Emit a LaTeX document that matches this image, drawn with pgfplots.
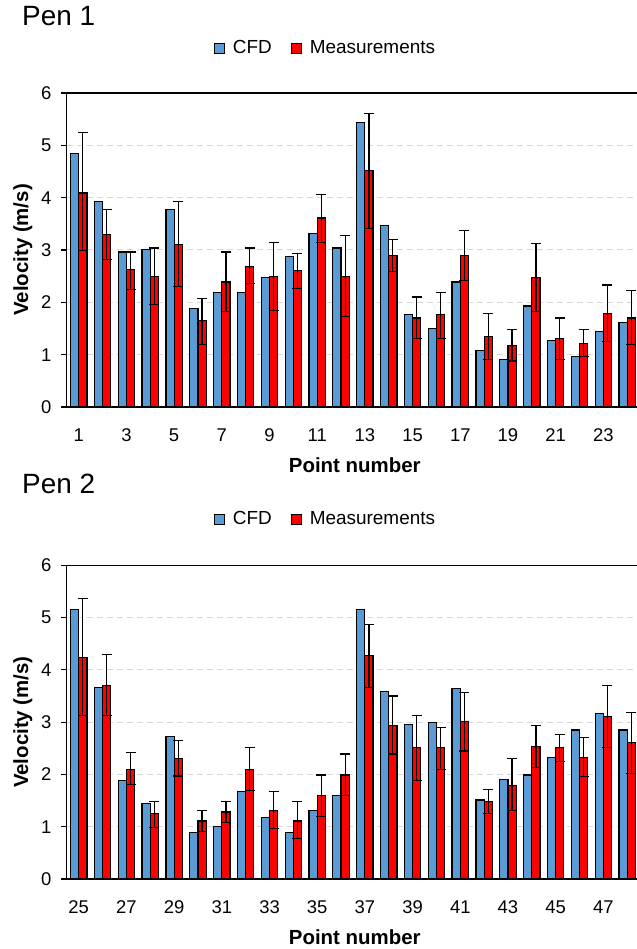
\documentclass[border=0pt]{standalone}
\usepackage{fontspec}
\setmainfont{Liberation Sans}
\usepackage{pgfplots}
\pgfplotsset{compat=1.18}
\usepackage{pgfplotstable}
\definecolor{cfdblue}{HTML}{5B9BD5}
\definecolor{measred}{HTML}{FF0000}
\definecolor{gridgray}{HTML}{D9D9D9}

\pgfplotstableread{
x c m ep em
1 4.85 4.09 1.15 1.10
2 3.92 3.30 0.48 0.48
3 2.96 2.62 0.34 0.37
4 3.01 2.50 0.54 0.54
5 3.78 3.10 0.82 0.80
6 1.88 1.65 0.42 0.46
7 2.19 2.39 0.57 0.57
8 2.19 2.69 0.35 0.33
9 2.47 2.50 0.65 0.65
10 2.87 2.61 0.32 0.34
11 3.32 3.61 0.45 0.46
12 3.04 2.50 0.77 0.77
13 5.43 4.52 1.09 1.11
14 3.47 2.90 0.30 0.31
15 1.76 1.70 0.40 0.39
16 1.50 1.76 0.43 0.45
17 2.39 2.90 0.48 0.48
18 1.08 1.34 0.44 0.43
19 0.91 1.17 0.31 0.29
20 1.93 2.47 0.66 0.65
21 1.27 1.31 0.39 0.40
22 0.97 1.22 0.26 0.25
23 1.45 1.79 0.54 0.54
24 1.62 1.70 0.52 0.51
}\penA

\pgfplotstableread{
x c m ep em
25 5.16 4.24 1.12 1.11
26 3.67 3.70 0.60 0.57
27 1.88 2.10 0.32 0.30
28 1.45 1.26 0.22 0.27
29 2.73 2.31 0.34 0.34
30 0.89 1.11 0.20 0.20
31 1.00 1.28 0.20 0.20
32 1.68 2.10 0.41 0.40
33 1.17 1.31 0.37 0.34
34 0.89 1.11 0.37 0.34
35 1.31 1.59 0.40 0.39
36 1.59 1.99 0.40 0.40
37 5.16 4.27 0.60 0.60
38 3.58 2.93 0.57 0.54
39 2.96 2.51 0.62 0.63
40 2.99 2.51 0.39 0.41
41 3.64 3.02 0.54 0.57
42 1.51 1.48 0.23 0.23
43 1.91 1.79 0.52 0.48
44 1.99 2.53 0.40 0.39
45 2.33 2.51 0.25 0.26
46 2.85 2.33 0.37 0.37
47 3.16 3.11 0.59 0.60
48 2.85 2.61 0.58 0.59
}\penB

\pgfplotsset{
  penaxis/.style={
    scale only axis, width=570.2bp,
    ybar, bar width=8.2bp,
    enlarge x limits=false, enlarge y limits=false,
    ymin=0, ymax=6, ytick={0,1,...,6},
    axis x line*=box, axis y line*=left,
    axis line style={-, line width=1.3bp, black},
    xtick style={draw=none},
    ytick style={line width=1.1bp, black},
    ytick align=outside, major tick length=6bp,
    ymajorgrids, grid style={gridgray, line width=1bp, dash pattern=on 6bp off 4bp},
    /pgf/number format/assume math mode=true,
    tick label style={font=\fontsize{18.5}{20}\selectfont},
    xticklabel style={yshift=-12bp},
    yticklabel style={xshift=-6bp},
    xlabel={\bfseries Point number},
    ylabel={\bfseries Velocity (m/s)},
    label style={font=\fontsize{20.5}{22}\selectfont\bfseries},
    xlabel style={at={(axis description cs:0.505,-0.2092)}, anchor=base},
    ylabel style={at={(axis description cs:-0.068,0.5)}, anchor=base, rotate=0},
    title style={anchor=base west, inner sep=0pt, font=\fontsize{28}{30}\selectfont},
    legend columns=2,
    legend style={draw=none, fill=none, anchor=center,
      font=\fontsize{19}{21}\selectfont,
      /tikz/every odd column/.append style={column sep=6bp},
      /tikz/every even column/.append style={column sep=17bp}},
    legend image code/.code={\draw[#1, line width=1bp] (0bp,-5bp) rectangle (10bp,5bp);},
  },
  cfdbar/.style={fill=cfdblue, draw=black, line width=1.2bp, bar shift=-4.1bp},
  measbar/.style={fill=measred, draw=black, line width=1.2bp, bar shift=4.1bp,
    error bars/.cd, y dir=both, y explicit,
    error bar style={line width=1.2bp, black},
    error mark options={rotate=90, mark size=5bp, line width=1.2bp, black}},
}

\begin{document}
\begin{tikzpicture}
\path[use as bounding box] (0,0) rectangle (637bp,949bp);
\begin{axis}[penaxis,
  at={(66.8bp,542bp)}, anchor=south west, height=314bp,
  xmin=0.5, xmax=24.41, xtick={1,3,...,23},
  title={Pen 1}, title style={at={(axis description cs:-0.0786,1.1952)}},
  legend style={at={(axis description cs:0.4537,1.143)}},
]
\addplot[cfdbar] table[x=x, y=c] {\penA};
\addplot[measbar] table[x=x, y=m, y error plus=ep, y error minus=em] {\penA};
\legend{CFD, Measurements}
\end{axis}
\begin{axis}[penaxis,
  at={(66.8bp,70bp)}, anchor=south west, height=313.7bp,
  xmin=24.5, xmax=48.41, xtick={25,27,...,47},
  title={Pen 2}, title style={at={(axis description cs:-0.0786,1.2114)}},
  legend style={at={(axis description cs:0.4537,1.1476)}},
]
\addplot[cfdbar] table[x=x, y=c] {\penB};
\addplot[measbar] table[x=x, y=m, y error plus=ep, y error minus=em] {\penB};
\legend{CFD, Measurements}
\end{axis}
\end{tikzpicture}
\end{document}
